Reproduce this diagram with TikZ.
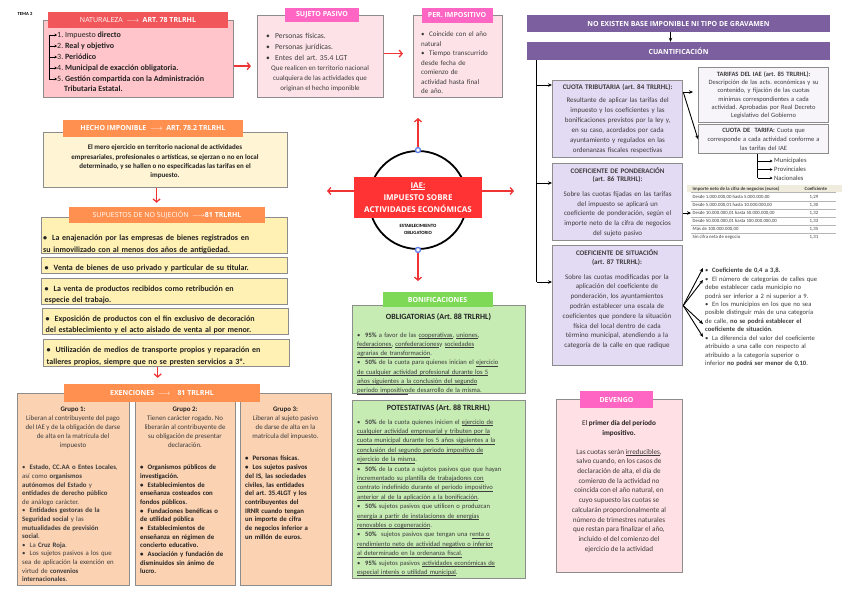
\documentclass[tikz,border=0pt]{standalone}
\usepackage{fontspec}
\setmainfont{Carlito}
\newfontfamily\headfont{Open Sans}
\usepackage{colortbl}
\usetikzlibrary{arrows.meta, positioning, calc}

\definecolor{natRed}{HTML}{F0565A}
\definecolor{natPink}{HTML}{FFC5CA}
\definecolor{hotPink}{HTML}{FF66C4}
\definecolor{panelPink}{HTML}{FDE3E7}
\definecolor{devPink}{HTML}{FFE0E4}
\definecolor{purpleBar}{HTML}{7C5F9F}
\definecolor{lilac}{HTML}{E3DAF3}
\definecolor{paleLilac}{HTML}{F7F5FA}
\definecolor{boxGray}{HTML}{8C8C8C}
\definecolor{orangeTag}{HTML}{FF904F}
\definecolor{cream}{HTML}{FFF4D4}
\definecolor{yellowBox}{HTML}{FFF0B4}
\definecolor{peach}{HTML}{FBD2B2}
\definecolor{greenTag}{HTML}{7ED957}
\definecolor{greenBox}{HTML}{C6EBB3}
\definecolor{arrowRed}{HTML}{F03434}
\definecolor{iaeRed}{HTML}{FF3333}
\definecolor{handleBlue}{HTML}{5C7CE8}
\definecolor{textDark}{HTML}{3C3C3C}
\definecolor{textBold}{HTML}{222222}
\definecolor{tableHead}{HTML}{F0ECDD}
\definecolor{ruleGray}{HTML}{B5B5B5}

\newcommand{\bitem}[1][8pt]{\par\noindent\hangindent=#1\hangafter=1\makebox[#1][l]{\textbullet}\ignorespaces}
\newcommand{\undr}[1]{\leavevmode\setbox0\hbox{#1}\rlap{\rule[-1.3pt]{\wd0}{0.4pt}}\box0}

\begin{document}
\frenchspacing
\begin{tikzpicture}[
        x=1pt, y=-1pt,
        >=Stealth,
        panel/.style={draw=boxGray, line width=1.2pt, anchor=north west, inner sep=0},
        natPanel/.style={panel, fill=natPink},
        pinkPanel/.style={panel, fill=panelPink},
        lilacPanel/.style={panel, fill=lilac, text=textDark},
        palesame/.style={panel, fill=paleLilac, text=textDark},
        creamPanel/.style={panel, fill=cream},
        yellowPanel/.style={panel, fill=yellowBox, line width=1.4pt},
        peachPanel/.style={panel, fill=peach},
        greenPanel/.style={panel, fill=greenBox},
        devPanel/.style={panel, fill=devPink},
        headTag/.style={font=\headfont\fontsize{7}{8}\selectfont, text=white, inner sep=0},
        redTag/.style={headTag, fill=natRed},
        pinkTag/.style={headTag, fill=hotPink, font=\headfont\bfseries\fontsize{7}{8}\selectfont},
        orangeTag/.style={headTag, fill=orangeTag},
        greenTag/.style={headTag, fill=greenTag, font=\headfont\bfseries\fontsize{7}{8}\selectfont},
        purpleStrip/.style={headTag, fill=purpleBar, font=\headfont\bfseries\fontsize{7}{8}\selectfont},
        bodyText/.style={inner sep=0, text=textDark, font=\fontsize{7}{10}\selectfont},
        natItem/.style={anchor=west, inner sep=0, text height=5.5pt, text depth=1.5pt, text=textBold, font=\fontsize{8}{9}\selectfont},
        supFont/.style={text=textBold, font=\bfseries\fontsize{8}{11.5}\selectfont},
        redArrow/.style={-{Straight Barb[length=3pt,width=7pt]}, draw=arrowRed, line width=1.3pt},
        blackArrow/.style={-{Stealth[length=4pt,width=3.5pt]}, draw=black, line width=0.9pt},
        tinyArrow/.style={-{Stealth[length=2.5pt,width=2.5pt]}, draw=black, line width=0.6pt}
    ]
    \useasboundingbox (0,0) rectangle (848,600);

    \node[font=\bfseries\fontsize{4.6}{5}\selectfont, inner sep=0] (temaLabel) at (25,14) {TEMA 2};

    % Naturaleza
    \node[natPanel, minimum width=190pt, minimum height=77pt] (natBox) at (43,20) {};
    \node[redTag, minimum width=180pt, minimum height=16pt] (natTag) at (138,20) {NATURALEZA\enspace$\longrightarrow$\enspace\textbf{ART. 78 TRLRHL}};
    \node[natItem] (nat1) at (57,35) {1. Impuesto \textbf{directo}};
    \node[natItem] (nat2) at (57,46) {2. \textbf{Real y objetivo}};
    \node[natItem] (nat3) at (57,57) {3. \textbf{Periódico}};
    \node[natItem] (nat4) at (57,68) {4. \textbf{Municipal de exacción obligatoria.}};
    \node[natItem] (nat5) at (57,79) {5. \textbf{Gestión compartida con la Administración}};
    \node[natItem] (nat5b) at (64,89) {\textbf{Tributaria Estatal.}};

    % Sujeto pasivo and periodo impositivo
    \node[pinkPanel, minimum width=126pt, minimum height=82pt] (sujBox) at (257,15) {};
    \node[pinkTag, minimum width=74pt, minimum height=14pt] (sujTag) at (322,15) {SUJETO PASIVO};
    \node[bodyText, anchor=north west, text width=112pt, align=left, font=\fontsize{7.6}{11}\selectfont] (sujList) at (266,27)
        {\bitem[9pt] Personas físicas.\bitem[9pt] Personas jurídicas.\bitem[9pt] Entes del art. 35.4 LGT};
    \node[bodyText, align=center] (sujNote) at (320,79) {Que realicen en territorio nacional\\ cualquiera de las actividades que\\ originan el hecho imponible};

    \node[pinkPanel, minimum width=89pt, minimum height=82pt] (perBox) at (413,15) {};
    \node[pinkTag, minimum width=71pt, minimum height=15pt] (perTag) at (457,15.5) {PER. IMPOSITIVO};
    \node[bodyText, anchor=north west, text width=80pt, align=left, font=\fontsize{7}{9.5}\selectfont] (perList) at (421,27)
        {\bitem Coincide con el año\\ natural\bitem Tiempo transcurrido\\ desde fecha de\\ comienzo de\\ actividad hasta final\\ de año.};

    % Cuantificacion
    \node[purpleStrip, minimum width=303pt, minimum height=17pt] (noBase) at (678.5,23.5) {NO EXISTEN BASE IMPONIBLE NI TIPO DE GRAVAMEN};
    \node[purpleStrip, minimum width=303pt, minimum height=18pt] (cuant) at (678.5,51) {CUANTIFICACIÓN};

    \node[lilacPanel, minimum width=130pt, minimum height=77pt, text width=127pt, align=center, font=\fontsize{7}{10}\selectfont] (cuotaTrib) at (552,80)
        {\textbf{CUOTA TRIBUTARIA (art. 84 TRLRHL):}\\[3pt] Resultante de aplicar las tarifas del\\ impuesto y los coeficientes y las\\ bonificaciones previstos por la ley y,\\ en su caso, acordados por cada\\ ayuntamiento y regulados en las\\ ordenanzas fiscales respectivas};
    \node[palesame, minimum width=130pt, minimum height=55pt, text width=128pt, align=center, font=\fontsize{6.5}{8.3}\selectfont] (tarifas) at (698,67)
        {\textbf{TARIFAS DEL IAE (art. 85 TRLRHL):}\\ Descripción de las acts. económicas y su\\ contenido, y fijación de las cuotas\\ mínimas correspondientes a cada\\ actividad. Aprobadas por Real Decreto\\ Legislativo del Gobierno};
    \node[palesame, minimum width=130pt, minimum height=29pt, text width=128pt, align=center, font=\fontsize{6.5}{8.8}\selectfont] (cuotaTarifa) at (698,124)
        {\textbf{CUOTA DE\ \ TARIFA:} Cuota que\\ corresponde a cada actividad conforme a\\ las tarifas del IAE};
    \node[bodyText, anchor=west, font=\fontsize{6.6}{8}\selectfont] (muni) at (774,161) {Municipales};
    \node[bodyText, anchor=west, font=\fontsize{6.6}{8}\selectfont] (prov) at (774,169.5) {Provinciales};
    \node[bodyText, anchor=west, font=\fontsize{6.6}{8}\selectfont] (nac) at (774,178) {Nacionales};

    \node[lilacPanel, minimum width=130pt, minimum height=77pt, text width=128pt, align=center, font=\fontsize{7}{9.8}\selectfont] (pondBox) at (552,163)
        {\textbf{COEFICIENTE DE PONDERACIÓN}\\[-1.5pt] \textbf{(art. 86 TRLRHL):}\\[5pt] Sobre las cuotas fijadas en las tarifas\\ del impuesto se aplicará un\\ coeficiente de ponderación, según el\\ importe neto de la cifra de negocios\\ del sujeto pasivo};
    \node[anchor=west, inner sep=0, text=textDark, font=\fontsize{4.8}{5.6}\selectfont] (coefTable) at (691,213)
        {\renewcommand{\arraystretch}{1.38}\arrayrulecolor{ruleGray}%
        \begin{tabular}{@{\hspace{1.5pt}}p{112pt}@{}p{31pt}@{}}
        \rowcolor{tableHead}\textbf{Importe neto de la cifra de negocios (euros)} & \textbf{Coeficiente}\\ \hline
        Desde 1.000.000,00 hasta 5.000.000,00 & \hspace{5pt}1,29\\ \hline
        Desde 5.000.000,01 hasta 10.000.000,00 & \hspace{5pt}1,30\\ \hline
        Desde 10.000.000,01 hasta 50.000.000,00 & \hspace{5pt}1,32\\ \hline
        Desde 50.000.000,01 hasta 100.000.000,00 & \hspace{5pt}1,33\\ \hline
        Más de 100.000.000,00 & \hspace{5pt}1,35\\ \hline
        Sin cifra neta de negocio & \hspace{5pt}1,31
        \end{tabular}};

    \node[lilacPanel, minimum width=130pt, minimum height=120pt] (sitBox) at (552,245) {};
    \node[bodyText, text width=128pt, align=center, font=\fontsize{7}{9.8}\selectfont] (sitText) at (617,299.5)
        {\textbf{COEFICIENTE DE SITUACIÓN}\\[-1.5pt] \textbf{(art. 87 TRLRHL):}\\[5pt] Sobre las cuotas modificadas por la\\ aplicación del coeficiente de\\ ponderación, los ayuntamientos\\ podrán establecer una escala de\\ coeficientes que pondere la situación\\ física del local dentro de cada\\ término municipal, atendiendo a la\\ categoría de la calle en que radique};
    \node[bodyText, anchor=north west, text width=139pt, align=left, font=\fontsize{6.6}{8.45}\selectfont] (sitList) at (705,264)
        {\bitem[7pt] \textbf{Coeficiente de 0,4 a 3,8.}
        \bitem[7pt] El número de categorías de calles que\\ debe establecer cada municipio no\\ podrá ser inferior a 2 ni superior a 9.
        \bitem[7pt] En los municipios en los que no sea\\ posible distinguir más de una categoría\\ de calle, \textbf{no se podrá establecer el}\\ \textbf{coeficiente de situación}.
        \bitem[7pt] La diferencia del valor del coeficiente\\ atribuido a una calle con respecto al\\ atribuido a la categoría superior o\\ inferior \textbf{no podrá ser menor de 0,10}.};

    % Hecho imponible and no sujecion
    \node[creamPanel, minimum width=244pt, minimum height=55pt] (hechoBox) at (43,132) {};
    \node[orangeTag, font=\headfont\bfseries\fontsize{7}{8}\selectfont, minimum width=180pt, minimum height=17pt] (hechoTag) at (153,128) {HECHO IMPONIBLE\enspace$\longrightarrow$\enspace ART. 78.2 TRLRHL};
    \node[bodyText, align=center, text=textBold, font=\bfseries\fontsize{7}{9.3}\selectfont] (hechoText) at (165,162)
        {El mero ejercicio en territorio nacional de actividades\\ empresariales, profesionales o artísticas, se ejerzan o no en local\\ determinado, y se hallen o no especificadas las tarifas en el\\ impuesto.};

    \node[yellowPanel, minimum width=246pt, minimum height=36pt] (sup1) at (41,217) {};
    \node[supFont, anchor=west, inner sep=0, text width=240pt, align=left] (sup1Text) at (43,241.5)
        {\bitem[9pt] La enajenación por las empresas de bienes registrados en\\ su inmovilizado con al menos dos años de antigüedad.};
    \node[yellowPanel, supFont, minimum width=246pt, minimum height=16pt, text width=240pt, align=left] (sup2) at (41,257)
        {\bitem[9pt] Venta de bienes de uso privado y particular de su titular.};
    \node[yellowPanel, supFont, minimum width=246pt, minimum height=26pt, text width=240pt, align=left] (sup3) at (41,278)
        {\bitem[9pt] La venta de productos recibidos como retribución en\\ especie del trabajo.};
    \node[yellowPanel, supFont, minimum width=246pt, minimum height=26pt, text width=240pt, align=left] (sup4) at (42,308)
        {\bitem[9pt] Exposición de productos con el fin exclusivo de decoración\\ del establecimiento y el acto aislado de venta al por menor.};
    \node[yellowPanel, supFont, minimum width=246pt, minimum height=27pt, text width=240pt, align=left] (sup5) at (43,339)
        {\bitem[9pt] Utilización de medios de transporte propios y reparación en\\ talleres propios, siempre que no se presten servicios a 3º.};
    \node[orangeTag, minimum width=196pt, minimum height=16pt] (supTag) at (167,215) {SUPUESTOS DE NO SUJECIÓN\enspace$\longrightarrow$\textbf{81 TRLRHL}};

    % Exenciones
    \node[peachPanel, minimum width=112pt, minimum height=192pt] (grp1) at (17,393) {};
    \node[peachPanel, minimum width=100pt, minimum height=192pt] (grp2) at (135,393) {};
    \node[peachPanel, minimum width=91pt, minimum height=192pt] (grp3) at (240,393) {};
    \node[orangeTag, font=\headfont\bfseries\fontsize{7}{8}\selectfont, minimum width=196pt, minimum height=18pt] (exTag) at (162,393) {EXENCIONES\enspace$\longrightarrow$\quad 81 TRLRHL};

    \node[bodyText, anchor=north, align=center, font=\fontsize{6.9}{8.9}\selectfont] (grp1Head) at (73,407)
        {\textbf{\textcolor{textBold}{Grupo 1:}}\\ Liberan al contribuyente del pago\\ del IAE y de la obligación de darse\\ de alta en la matrícula del\\ impuesto};
    \node[bodyText, anchor=north west, text width=106pt, align=left, font=\fontsize{6.8}{8.6}\selectfont] (grp1List) at (22,461)
        {\bitem[7.5pt] \textbf{Estado, CC.AA o Entes Locales},\\ así como \textbf{organismos}\\ \textbf{autónomos del Estado} y\\ \textbf{entidades de derecho público}\\ de análogo carácter.
        \bitem[7.5pt] \textbf{Entidades gestoras de la}\\ \textbf{Seguridad social} y las\\ \textbf{mutualidades de previsión}\\ \textbf{social}.
        \bitem[7.5pt] La \textbf{Cruz Roja}.
        \bitem[7.5pt] Los sujetos pasivos a los que\\ sea de aplicación la exención en\\ virtud de \textbf{convenios}\\ \textbf{internacionales}.};

    \node[bodyText, anchor=north, align=center, font=\fontsize{6.9}{8.9}\selectfont] (grp2Head) at (185,407)
        {\textbf{\textcolor{textBold}{Grupo 2:}}\\ Tienen carácter rogado. No\\ liberarán al contribuyente de\\ su obligación de presentar\\ declaración.};
    \node[bodyText, anchor=north west, text width=94pt, align=left, text=textBold, font=\bfseries\fontsize{6.8}{8.65}\selectfont] (grp2List) at (140,461)
        {\bitem[7.5pt] Organismos públicos de\\ investigación.
        \bitem[7.5pt] Establecimientos de\\ enseñanza costeados con\\ fondos públicos.
        \bitem[7.5pt] Fundaciones benéficas o\\ de utilidad pública
        \bitem[7.5pt] Establecimientos de\\ enseñanza en régimen de\\ concierto educativo.
        \bitem[7.5pt] Asociación y fundación de\\ disminuidos sin ánimo de\\ lucro.};

    \node[bodyText, anchor=north, align=center, font=\fontsize{6.9}{8.9}\selectfont] (grp3Head) at (285.5,407)
        {\textbf{\textcolor{textBold}{Grupo 3:}}\\ Liberan al sujeto pasivo\\ de darse de alta en la\\ matrícula del impuesto.};
    \node[bodyText, anchor=north west, text width=86pt, align=left, text=textBold, font=\bfseries\fontsize{6.8}{8.7}\selectfont] (grp3List) at (245,452)
        {\bitem[7.5pt] Personas físicas.
        \bitem[7.5pt] Los sujetos pasivos\\ del IS, las sociedades\\ civiles, las entidades\\ del art. 35.4LGT y los\\ contribuyentes del\\ IRNR cuando tengan\\ un importe de cifra\\ de negocios inferior a\\ un millón de euros.};

    % IAE centre
    \node[circle, draw=black, line width=1.8pt, minimum size=98pt, inner sep=0] (iaeRing) at (418,200) {};
    \coordinate (upEnd) at (418,118);
    \coordinate (downEnd) at (418,281);
    \coordinate (leftEnd) at (327,191);
    \coordinate (rightEnd) at (514,191);
    \draw[redArrow] (iaeRing.north) -- (upEnd);
    \draw[redArrow] (iaeRing.south) -- (downEnd);
    \node[circle, draw=handleBlue, fill=white, line width=1.3pt, minimum size=5pt, inner sep=0] (ringTop) at (iaeRing.north) {};
    \node[circle, draw=handleBlue, fill=white, line width=1.3pt, minimum size=5pt, inner sep=0] (ringBottom) at (iaeRing.south) {};
    \node[fill=iaeRed, text=white, minimum width=128pt, minimum height=41pt, inner sep=0, align=center, font=\headfont\bfseries\fontsize{8}{12}\selectfont] (iaeBox) at (418,197.5)
        {\undr{IAE:}\\ IMPUESTO SOBRE\\ ACTIVIDADES ECONÓMICAS};
    \node[inner sep=0, align=center, font=\bfseries\fontsize{4.8}{6.5}\selectfont] (estabText) at (418,229.5) {ESTABLECIMIENTO\\ OBLIGATORIO};
    \draw[redArrow] ([yshift=6.5pt]iaeBox.west) -- (leftEnd);
    \draw[redArrow] ([yshift=6.5pt]iaeBox.east) -- (rightEnd);

    % Bonificaciones
    \node[greenPanel, minimum width=173pt, minimum height=88pt] (bonBox) at (352,305) {};
    \node[greenTag, minimum width=110pt, minimum height=15pt] (bonTag) at (437.5,299.5) {BONIFICACIONES};
    \node[inner sep=0, text=textBold, font=\bfseries\fontsize{8}{9}\selectfont] (bonTitle) at (438.5,317) {OBLIGATORIAS (Art. 88 TRLRHL)};
    \node[bodyText, anchor=north west, text width=168pt, align=left, font=\fontsize{6.6}{9.3}\selectfont] (bonList) at (357,327.5)
        {\bitem \textbf{95\%} a favor de las \undr{cooperativas}, \undr{uniones},\\ \undr{federaciones}, \undr{confederaciones} y \undr{sociedades}\\ \undr{agrarias de transformación}.
        \bitem \textbf{50\%} de la cuota para quienes inician el \undr{ejercicio}\\ \undr{de cualquier actividad profesional durante los 5}\\ \undr{años siguientes a la conclusión del segundo}\\ \undr{periodo impositivo} de desarrollo de la misma.};

    \node[greenPanel, minimum width=173pt, minimum height=178pt] (potBox) at (352,400) {};
    \node[inner sep=0, text=textBold, font=\bfseries\fontsize{8}{9}\selectfont] (potTitle) at (438.5,408) {POTESTATIVAS (Art. 88 TRLRHL)};
    \node[bodyText, anchor=north west, text width=168pt, align=left, font=\fontsize{6.6}{9.4}\selectfont] (potList) at (357,414.5)
        {\bitem \textbf{50\%} de la cuota quienes inicien el \undr{ejercicio de}\\ \undr{cualquier actividad empresarial y tributen por la}\\ \undr{cuota municipal durante los 5 años siguientes a la}\\ \undr{conclusión del segundo periodo impositivo de}\\ \undr{ejercicio de la misma}.
        \bitem \textbf{50\%} de la cuota a sujetos pasivos que que hayan\\ \undr{incrementado su plantilla de trabajadores con}\\ \undr{contrato indefinido durante el periodo impositivo}\\ \undr{anterior al de la aplicación a la bonificación}.
        \bitem \textbf{50\%} sujetos pasivos que utilicen o produzcan\\ \undr{energía a partir de instalaciones de energías}\\ \undr{renovables o cogeneración}.
        \bitem \textbf{50\%}\ \ sujetos pasivos que tengan una r\undr{enta o}\\ \undr{rendimiento neto de actividad negativo o inferior}\\ \undr{al determinado en la ordenanza fiscal.}
        \bitem \textbf{95\%} sujetos pasivos \undr{actividades económicas de}\\ \undr{especial interés o utilidad municipal}.};

    % Devengo
    \node[devPanel, minimum width=126pt, minimum height=173pt] (devBox) at (556,399) {};
    \node[pinkTag, minimum width=73pt, minimum height=17pt] (devTag) at (616.5,399.5) {DEVENGO};
    \node[bodyText, align=center, font=\fontsize{7.2}{9.7}\selectfont] (devText) at (619,486.5)
        {\textcolor{textBold}{El \textbf{primer día del período}}\\ \textcolor{textBold}{\textbf{impositivo.}}\\[9pt] Las cuotas serán \undr{irreducibles},\\ salvo cuando, en los casos de\\ declaración de alta, el día de\\ comienzo de la actividad no\\ coincida con el año natural, en\\ cuyo supuesto las cuotas se\\ calcularán proporcionalmente al\\ número de trimestres naturales\\ que restan para finalizar el año,\\ incluido el del comienzo del\\ ejercicio de la actividad};

    % Connections
    \coordinate (natSpine) at (49,35);
    \draw[line width=0.7pt] (natSpine) -- (natSpine |- nat5.west);
    \foreach \i in {1,...,5} \draw[tinyArrow] (natSpine |- nat\i.west) -- (nat\i.west);

    \draw[redArrow, shorten >=6pt] ([yshift=-7pt]natBox.east) -- ([yshift=-9.5pt]sujBox.west);
    \draw[redArrow, shorten >=10pt] ([yshift=3pt]sujBox.east) -- ([yshift=3pt]perBox.west);

    \draw[blackArrow] ([xshift=-8pt]noBase.south) -- ([xshift=-8pt]cuant.north);
    \coordinate (cuantSpine) at ([xshift=10pt]cuant.south west);
    \coordinate (cuotaIn) at ([yshift=-5pt]cuotaTrib.north west);
    \coordinate (pondIn) at ([yshift=-20pt]pondBox.north west);
    \coordinate (sitIn) at ([yshift=-37pt]sitBox.north west);
    \draw[line width=1pt] (cuantSpine) -- (cuantSpine |- sitIn);
    \foreach \target in {cuotaIn,pondIn,sitIn} \draw[blackArrow] (cuantSpine |- \target) -- (\target);

    \coordinate (cuotaOut) at ([yshift=-12pt]cuotaTrib.north east);
    \draw[blackArrow, shorten >=5pt] (cuotaOut) -- (cuotaOut -| tarifas.west);
    \draw[blackArrow] (cuotaOut) -- (cuotaTarifa.west);

    \coordinate (tarifaSpine) at ([xshift=-6pt]cuotaTarifa.south);
    \draw[line width=0.7pt] (tarifaSpine) -- (tarifaSpine |- nac.west);
    \foreach \n in {muni,prov,nac} \draw[tinyArrow, shorten >=1.5pt] (tarifaSpine |- \n.west) -- (\n.west);

    \draw[blackArrow] (pondBox.east |- coefTable.west) -- (coefTable.west);

    \coordinate (sitTip1) at (703,268);
    \coordinate (sitTip2) at (703,280);
    \coordinate (sitTip3) at (703,324);
    \coordinate (sitTip4) at (703,337);
    \foreach \t in {1,...,4} \draw[blackArrow] (sitBox.east) -- (sitTip\t);

    \coordinate (hechoOut) at ([xshift=-9pt]hechoBox.south);
    \draw[redArrow, shorten >=4pt] (hechoOut) -- (hechoOut |- supTag.north);
    \coordinate (supOut) at ([xshift=-9pt]sup5.south);
    \draw[redArrow, shorten >=6pt] (supOut) -- (supOut |- exTag.north);

\end{tikzpicture}
\end{document}
